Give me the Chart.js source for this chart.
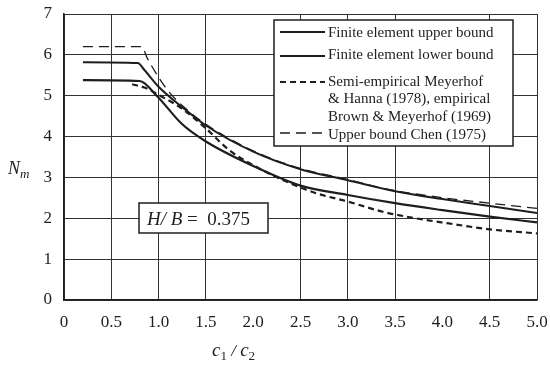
<!DOCTYPE html>
<html>
<head>
<meta charset="utf-8">
<script src="https://cdn.jsdelivr.net/npm/chart.js@4.4.0/dist/chart.umd.min.js"></script>
<style>
  html, body { margin: 0; padding: 0; background: #fff; }
</style>
</head>
<body>
<canvas id="chart" width="550" height="370"></canvas>
<script>
// c1/c2 vs N_m, H/B = 0.375
const feUpperX = [0.2, 0.78, 0.85, 1.0, 1.25, 1.5, 2.0, 2.5, 3.0, 3.5, 4.0, 4.5, 5.0];
const feUpperY = [5.82, 5.8, 5.63, 5.22, 4.72, 4.27, 3.63, 3.2, 2.93, 2.66, 2.47, 2.3, 2.13];

const feLowerX = [0.2, 0.8, 0.98, 1.25, 1.5, 2.0, 2.5, 3.0, 3.5, 4.0, 4.5, 5.0];
const feLowerY = [5.38, 5.36, 5.0, 4.3, 3.88, 3.28, 2.8, 2.57, 2.37, 2.2, 2.04, 1.9];

const semiEmpX = [0.72, 0.85, 1.0, 1.25, 1.5, 1.75, 2.0, 2.35, 2.67, 3.0, 3.37, 3.62, 4.05, 4.5, 5.0];
const semiEmpY = [5.28, 5.2, 5.02, 4.68, 4.2, 3.66, 3.3, 2.9, 2.61, 2.41, 2.16, 2.04, 1.88, 1.73, 1.63];

const chenX = [0.2, 0.82, 0.88, 1.0, 1.1, 1.25, 1.5, 2.0, 2.5, 3.0, 3.4, 4.05, 4.5, 5.0];
const chenY = [6.2, 6.2, 5.92, 5.45, 5.12, 4.76, 4.3, 3.65, 3.22, 2.95, 2.72, 2.49, 2.37, 2.24];

const xTickLabels = ['0', '0.5', '1.0', '1.5', '2.0', '2.5', '3.0', '3.5', '4.0', '4.5', '5.0'];
const hiddenGridX = [2.0, 4.0];

const legendText = [
  ['Finite element upper bound'],
  ['Finite element lower bound'],
  ['Semi-empirical Meyerhof', '& Hanna (1978), empirical', 'Brown & Meyerhof (1969)'],
  ['Upper bound Chen (1975)']
];

const SERIF = '"Liberation Serif", "DejaVu Serif", serif';
const INK = '#1e1e1e';

const toPoints = (xs, ys) => xs.map((x, i) => ({ x: x, y: ys[i] }));

const line = (data, width, dash) => ({
  data: data,
  borderColor: INK,
  borderWidth: width,
  borderDash: dash,
  pointRadius: 0,
  fill: false,
  cubicInterpolationMode: 'monotone'
});

const overlay = {
  id: 'overlay',
  afterDatasetsDraw(chart) {
    const c = chart.ctx;
    c.save();

    // legend box
    c.fillStyle = '#fff';
    c.fillRect(274, 20, 239, 126);
    c.strokeStyle = INK;
    c.lineWidth = 1.5;
    c.strokeRect(274, 20, 239, 126);

    const rowY = [33, 55, 82, 135];
    const sampleY = [32, 56, 82, 133];
    c.font = '15px ' + SERIF;
    c.textBaseline = 'middle';
    chart.data.datasets.forEach((ds, i) => {
      c.beginPath();
      c.setLineDash(ds.borderDash || []);
      c.lineWidth = ds.borderWidth;
      c.strokeStyle = ds.borderColor;
      c.moveTo(280, sampleY[i]);
      c.lineTo(325, sampleY[i]);
      c.stroke();
      c.setLineDash([]);
      c.fillStyle = INK;
      legendText[i].forEach((t, k) => c.fillText(t, 328, rowY[i] + k * 17.5));
    });

    // H/B label
    c.fillStyle = '#fff';
    c.fillRect(139, 203, 129, 30);
    c.lineWidth = 1.5;
    c.strokeRect(139, 203, 129, 30);
    c.fillStyle = INK;
    c.textBaseline = 'alphabetic';
    c.font = 'italic 19px ' + SERIF;
    c.fillText('H/ B', 147, 225);
    let w = c.measureText('H/ B').width;
    c.font = '19px ' + SERIF;
    c.fillText(' =  0.375', 147 + w, 225);

    // y title N_m
    c.font = 'italic 18px ' + SERIF;
    c.fillText('N', 8, 174);
    w = c.measureText('N').width;
    c.font = 'italic 13px ' + SERIF;
    c.fillText('m', 8 + w, 178);

    // x title c1 / c2
    let x = 212;
    const part = (t, font, dy) => {
      c.font = font;
      c.fillText(t, x, 356 + dy);
      x += c.measureText(t).width;
    };
    part('c', 'italic 19px ' + SERIF, 0);
    part('1', '13px ' + SERIF, 4);
    part(' / ', 'italic 17px ' + SERIF, 0);
    part('c', 'italic 19px ' + SERIF, 0);
    part('2', '13px ' + SERIF, 4);

    c.restore();
  }
};

new Chart(document.getElementById('chart'), {
  type: 'line',
  data: {
    datasets: [
      line(toPoints(feUpperX, feUpperY), 2, []),
      line(toPoints(feLowerX, feLowerY), 2.2, []),
      line(toPoints(semiEmpX, semiEmpY), 2.2, [6, 4]),
      line(toPoints(chenX, chenY), 1.3, [10, 6])
    ]
  },
  options: {
    responsive: false,
    animation: false,
    layout: { padding: { top: 14, right: 13, left: 0, bottom: 0 } },
    plugins: { legend: { display: false }, tooltip: { enabled: false } },
    scales: {
      x: {
        type: 'linear',
        min: 0,
        max: 5,
        afterFit: s => { s.height = 70; s.paddingLeft = 0; s.paddingRight = 0; },
        ticks: {
          stepSize: 0.5,
          color: INK,
          padding: 12,
          font: { family: SERIF, size: 17 },
          callback: v => xTickLabels[Math.round(v * 2)]
        },
        grid: {
          drawTicks: false,
          lineWidth: 1,
          color: ctx => (ctx.tick && hiddenGridX.includes(ctx.tick.value)) ? 'rgba(0,0,0,0)' : '#333'
        },
        border: { color: INK, width: 1.5 }
      },
      y: {
        min: 0,
        max: 7,
        afterFit: s => { s.width = 64; s.paddingTop = 0; s.paddingBottom = 0; },
        ticks: {
          stepSize: 1,
          color: INK,
          padding: 12,
          font: { family: SERIF, size: 17 }
        },
        grid: { drawTicks: false, lineWidth: 1, color: '#333' },
        border: { color: INK, width: 1.5 }
      }
    }
  },
  plugins: [overlay]
});
</script>
</body>
</html>
